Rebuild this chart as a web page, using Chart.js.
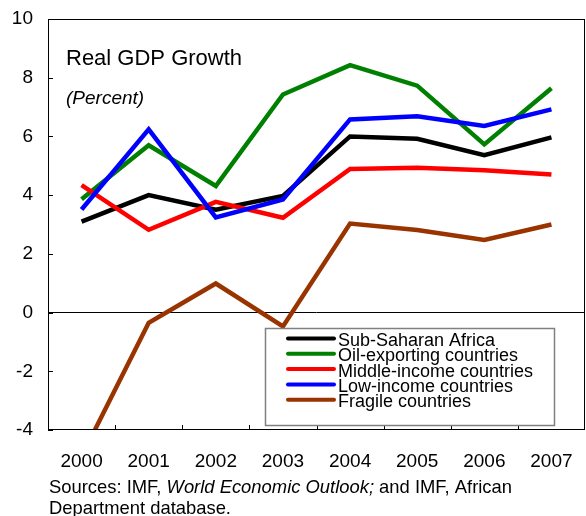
<!DOCTYPE html>
<html>
<head>
<meta charset="utf-8">
<title>Real GDP Growth</title>
<script src="https://cdn.jsdelivr.net/npm/chart.js"></script>
<style>
  html, body { margin: 0; padding: 0; background: #fff; }
  #wrap { width: 586px; height: 516px; }
</style>
</head>
<body>
<div id="wrap"><canvas id="gdpChart" width="586" height="516"></canvas></div>
<script>
// Series values (percent)
const years = ['2000', '2001', '2002', '2003', '2004', '2005', '2006', '2007'];
const subSaharan = [3.1, 4.0, 3.5, 3.97, 6.0, 5.92, 5.36, 5.97];
const oilExporting = [3.86, 5.7, 4.31, 7.43, 8.43, 7.73, 5.73, 7.64];
const middleIncome = [4.34, 2.82, 3.77, 3.23, 4.89, 4.93, 4.85, 4.7];
const lowIncome = [3.51, 6.24, 3.24, 3.85, 6.58, 6.69, 6.36, 6.92];
const fragile = [-4.9, -0.35, 0.99, -0.47, 3.03, 2.81, 2.47, 3.0];
const yTicks = [-4, -2, 0, 2, 4, 6, 8, 10];

const FONT = '"Liberation Sans", Arial, sans-serif';
const CLEAR = 'rgba(0,0,0,0)';

function series(label, data, color, order) {
    return {
        label: label,
        data: data,
        borderColor: color,
        backgroundColor: color,
        borderWidth: 4.5,
        borderJoinStyle: 'miter',
        pointRadius: 0,
        tension: 0,
        fill: false,
        clip: 0,
        order: order
    };
}

// Frame, inward ticks, titles, legend box and source note
const decorations = {
    id: 'decorations',
    afterDraw(chart) {
        const ctx = chart.ctx;
        const a = chart.chartArea;
        const y = chart.scales.y;
        ctx.save();

        // plot frame
        ctx.strokeStyle = '#000';
        ctx.lineWidth = 1;
        ctx.strokeRect(a.left + 0.5, a.top + 0.5, a.right - a.left - 1, a.bottom - a.top - 1);

        // y ticks pointing inward
        ctx.beginPath();
        y.ticks.forEach(t => {
            const py = Math.round(y.getPixelForValue(t.value)) + 0.5;
            ctx.moveTo(a.left, py);
            ctx.lineTo(a.left + 5, py);
        });
        // x ticks on category boundaries
        const step = (a.right - a.left) / years.length;
        for (let i = 1; i < years.length; i++) {
            const px = Math.round(a.left + i * step) + 0.5;
            ctx.moveTo(px, a.bottom);
            ctx.lineTo(px, a.bottom - 5);
        }
        ctx.stroke();

        // chart title
        ctx.fillStyle = '#000';
        ctx.textBaseline = 'alphabetic';
        ctx.textAlign = 'left';
        ctx.font = '22px ' + FONT;
        ctx.fillText('Real GDP Growth', 66, 65);
        ctx.font = 'italic 19px ' + FONT;
        ctx.fillText('(Percent)', 66, 104);

        // legend
        const box = { x: 265.5, y: 328.5, w: 289, h: 97 };
        ctx.fillStyle = '#fff';
        ctx.fillRect(box.x, box.y, box.w, box.h);
        ctx.strokeStyle = '#808080';
        ctx.lineWidth = 1.5;
        ctx.strokeRect(box.x, box.y, box.w, box.h);
        ctx.font = '18px ' + FONT;
        chart.data.datasets.forEach((ds, i) => {
            const base = 346 + i * 15.3;
            const ly = base - 7.5;
            ctx.strokeStyle = ds.borderColor;
            ctx.lineWidth = 4;
            ctx.lineCap = 'round';
            ctx.beginPath();
            ctx.moveTo(288, ly);
            ctx.lineTo(334, ly);
            ctx.stroke();
            ctx.fillStyle = '#000';
            ctx.fillText(ds.label, 338, base);
        });

        // source note
        let sx = 49;
        const parts = [
            ['Sources: IMF, ', ''],
            ['World Economic Outlook;', 'italic '],
            [' and IMF, African', '']
        ];
        parts.forEach(p => {
            ctx.font = p[1] + '18.4px ' + FONT;
            ctx.fillText(p[0], sx, 493);
            sx += ctx.measureText(p[0]).width;
        });
        ctx.font = '18.4px ' + FONT;
        ctx.fillText('Department database.', 49, 514);

        ctx.restore();
    }
};

new Chart(document.getElementById('gdpChart'), {
    type: 'line',
    data: {
        labels: years,
        datasets: [
            series('Sub-Saharan Africa', subSaharan, '#000000', 4),
            series('Oil-exporting countries', oilExporting, '#008000', 3),
            series('Middle-income countries', middleIncome, '#ff0000', 2),
            series('Low-income countries', lowIncome, '#0000ff', 1),
            series('Fragile countries', fragile, '#993300', 0)
        ]
    },
    options: {
        responsive: false,
        animation: false,
        layout: { padding: { top: 19, right: 1, bottom: 0, left: 0 } },
        plugins: {
            legend: { display: false },
            tooltip: { enabled: false },
            title: { display: false }
        },
        scales: {
            x: {
                offset: true,
                grid: {
                    color: CLEAR,
                    drawOnChartArea: false,
                    drawTicks: true,
                    tickLength: 20,
                    tickColor: CLEAR
                },
                border: { display: false },
                ticks: {
                    color: '#000',
                    padding: 0,
                    maxRotation: 0,
                    font: { family: FONT, size: 19 }
                },
                afterFit(scale) { scale.height = 86; }
            },
            y: {
                min: -4,
                max: 10,
                afterBuildTicks(scale) {
                    scale.ticks = yTicks.map(v => ({ value: v }));
                },
                grid: {
                    drawTicks: true,
                    tickLength: 15,
                    tickColor: CLEAR,
                    color: ctx => (ctx.tick && ctx.tick.value === 0) ? '#000' : CLEAR,
                    lineWidth: 1
                },
                border: { display: false },
                ticks: {
                    color: '#000',
                    padding: 0,
                    font: { family: FONT, size: 19 }
                },
                afterFit(scale) { scale.width = 48; }
            }
        }
    },
    plugins: [decorations]
});
</script>
</body>
</html>
